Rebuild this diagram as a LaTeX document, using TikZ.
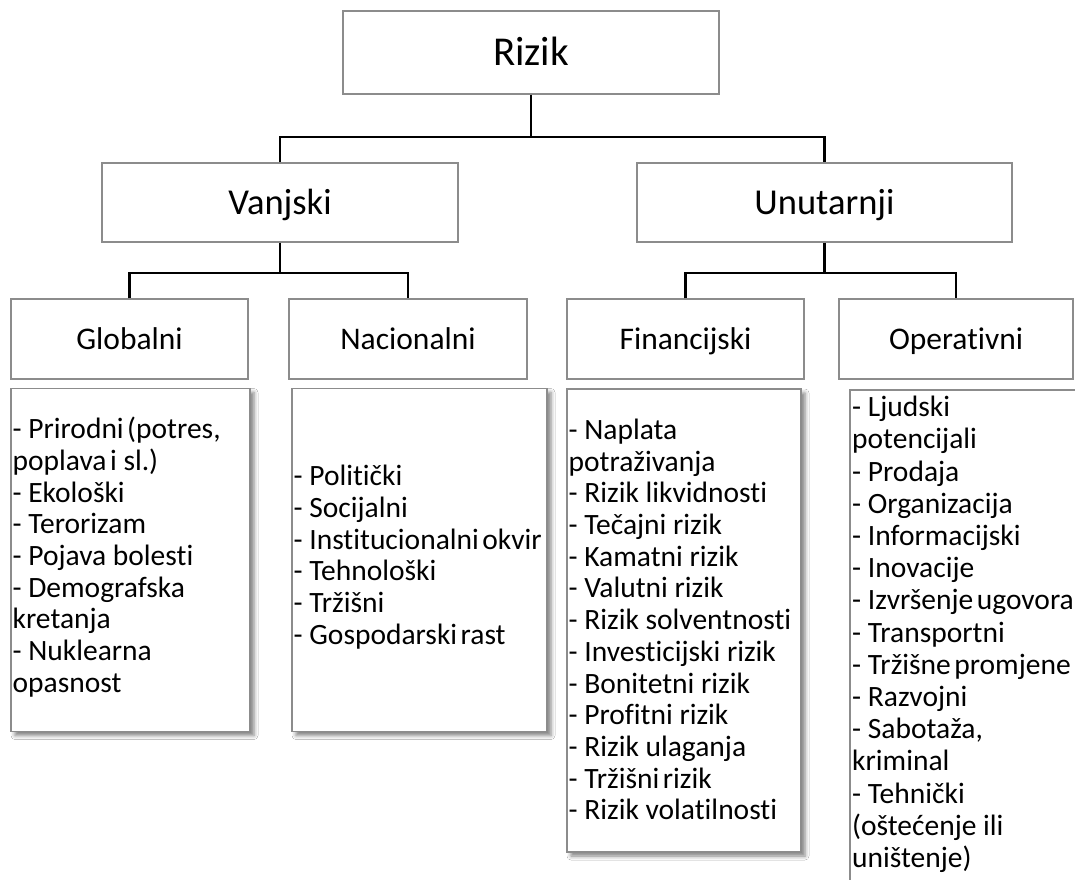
\documentclass[tikz,border=0pt]{standalone}
\usepackage{fontspec}
\setmainfont{Carlito}[Ligatures={TeX,NoCommon}]
\usetikzlibrary{shadows.blur}
\definecolor{boxgray}{RGB}{140,140,140}
\newcommand{\nsp}{\hspace{3.5pt}}
\tikzset{
  hbox/.style={draw=boxgray, line width=1.1pt, fill=white, inner sep=0pt, align=center, text depth=0pt},
  lbox/.style={draw=boxgray, line width=1.1pt, fill=white, inner sep=0pt, anchor=center,
    blur shadow={shadow xshift=4pt, shadow yshift=-4pt, shadow blur radius=4pt, shadow opacity=50}},
  ltext/.style={inner sep=0pt, align=left, font=\fontsize{29.5}{31.7}\selectfont},
  conn/.style={draw=black, line width=2.4pt},
}
\begin{document}
\begin{tikzpicture}[x=1pt, y=-1pt]
\useasboundingbox (0,0) rectangle (1075,879);
\clip (0,0) rectangle (1075,879);
\fill[white] (0,0) rectangle (1075,879);

% header boxes
\node[hbox, minimum width=376pt, minimum height=83pt, text height=26.4pt, font=\fontsize{41}{48}\selectfont] (rizik) at (531,52.5) {Rizik};
\node[hbox, minimum width=356pt, minimum height=79pt, text height=23.5pt, font=\fontsize{36.5}{43}\selectfont] (vanjski) at (280,202.5) {Vanjski};
\node[hbox, minimum width=375pt, minimum height=79pt, text height=23.5pt, font=\fontsize{36.5}{43}\selectfont] (unutarnji) at (824.5,202.5) {Unutarnji};

\node[hbox, minimum width=237pt, minimum height=80pt, text height=20.3pt, font=\fontsize{31.5}{37}\selectfont] (glob) at (129.5,339) {Globalni};
\node[hbox, minimum width=238pt, minimum height=80pt, text height=20.3pt, font=\fontsize{31.5}{37}\selectfont] (nac) at (408,339) {Nacionalni};
\node[hbox, minimum width=237pt, minimum height=80pt, text height=20.3pt, font=\fontsize{31.5}{37}\selectfont] (fin) at (685.5,339) {Financijski};
\node[hbox, minimum width=234pt, minimum height=80pt, text height=20.3pt, font=\fontsize{31.5}{37}\selectfont] (op) at (956,339) {Operativni};

% connectors
\coordinate (bus1) at (0,137);
\coordinate (bus2) at (0,273);
\draw[conn] (rizik.south) -- (rizik.south |- bus1);
\draw[conn] (vanjski.north) -- (vanjski.north |- bus1) -- (unutarnji.north |- bus1) -- (unutarnji.north);
\draw[conn] (vanjski.south) -- (vanjski.south |- bus2);
\draw[conn] (glob.north) -- (glob.north |- bus2) -- (nac.north |- bus2) -- (nac.north);
\draw[conn] (unutarnji.south) -- (unutarnji.south |- bus2);
\draw[conn] (fin.north) -- (fin.north |- bus2) -- (op.north |- bus2) -- (op.north);

% list boxes
\node[lbox, minimum width=239pt, minimum height=343pt] (globl) at (130.5,560) {};
\node[ltext, anchor=west] (globt) at ([xshift=2pt, yshift=3pt]globl.west) {%
- Prirodni\nsp(potres,\\
poplava\nsp i sl.)\\
- Ekološki\\
- Terorizam\\
- Pojava bolesti\\
- Demografska\\
kretanja\\
- Nuklearna\\
opasnost};

\node[lbox, minimum width=255pt, minimum height=343pt] (nacl) at (419.5,560) {};
\node[ltext, anchor=west] (nact) at ([xshift=2pt, yshift=3pt]nacl.west) {%
- Politički\\
- Socijalni\\
- Institucionalni\nsp okvir\\
- Tehnološki\\
- Tržišni\\
- Gospodarski\nsp rast};

\node[lbox, minimum width=234pt, minimum height=463pt] (finl) at (684,620.5) {};
\node[ltext, anchor=west] (fint) at ([xshift=2pt, yshift=1pt]finl.west) {%
- Naplata\\
potraživanja\\
- Rizik likvidnosti\\
- Tečajni rizik\\
- Kamatni rizik\\
- Valutni rizik\\
- Rizik solventnosti\\
- Investicijski rizik\\
- Bonitetni rizik\\
- Profitni rizik\\
- Rizik ulaganja\\
- Tržišni\nsp rizik\\
- Rizik volatilnosti};

\coordinate (opbl) at (850,900);
\coordinate (optl) at (850,390);
\coordinate (optr) at (1090,390);
\fill[white] (opbl) rectangle (optr);
\draw[draw=boxgray, line width=1.1pt] (opbl) -- (optl) -- (optr);
\node[ltext, anchor=north west, font=\fontsize{29.5}{32.2}\selectfont] (opl) at (852,396) {%
- Ljudski\\
potencijali\\
- Prodaja\\
- Organizacija\\
- Informacijski\\
- Inovacije\\
- Izvršenje\nsp ugovora\\
- Transportni\\
- Tržišne\nsp promjene\\
- Razvojni\\
- Sabotaža,\\
kriminal\\
- Tehnički\\
(oštećenje ili\\
uništenje)};
\end{tikzpicture}
\end{document}
